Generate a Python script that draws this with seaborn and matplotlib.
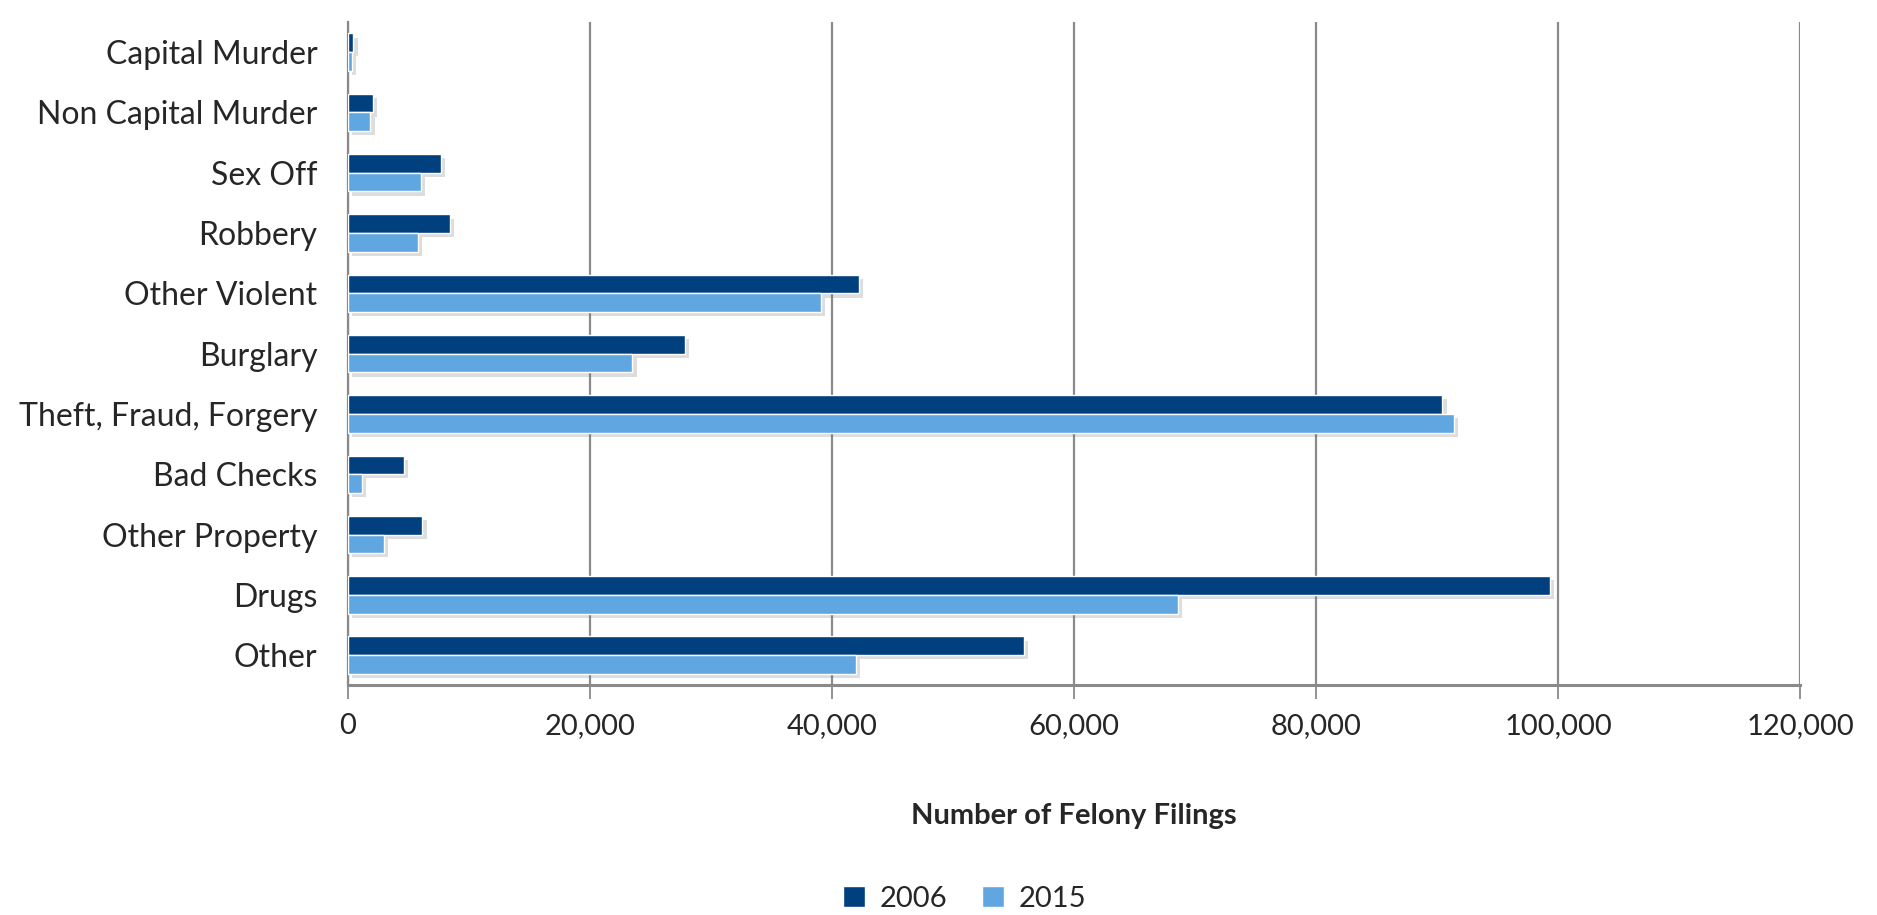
import matplotlib
matplotlib.use('Agg')

import numpy as np
import pandas as pd
import matplotlib.pyplot as plt
import matplotlib.patheffects as pe
from matplotlib.ticker import FuncFormatter, FixedLocator
import seaborn as sns

# Felony filings by offence type
categories = ["Capital Murder", "Non Capital Murder", "Sex Off", "Robbery",
              "Other Violent", "Burglary", "Theft, Fraud, Forgery", "Bad Checks",
              "Other Property", "Drugs", "Other"]
filings_2006 = [450, 2050, 7650, 8450, 42250, 27850, 90450, 4650, 6150, 99300, 55850]
filings_2015 = [350, 1850, 6050, 5750, 39050, 23500, 91400, 1150, 2950, 68600, 42000]
years = ["2006", "2015"]
x_ticks = [0, 20000, 40000, 60000, 80000, 100000, 120000]

df = pd.DataFrame({
    "category": categories * 2,
    "year": [years[0]] * len(categories) + [years[1]] * len(categories),
    "filings": filings_2006 + filings_2015,
})

sns.set_theme(style="white")
plt.rcParams['font.family'] = ['Lato', 'DejaVu Sans']

fig = plt.figure(figsize=(18.77, 9.15), dpi=100)
ax = fig.add_axes([0.1854, 0.251, 0.7736, 0.725])

palette = {"2006": "#00407E", "2015": "#60A6E1"}
sns.barplot(data=df, y="category", x="filings", hue="year", order=categories,
            hue_order=years, palette=palette, orient="h", width=0.62,
            saturation=1, ax=ax, zorder=3)

ax.set_xlim(0, 120000)
ax.set_ylim(len(categories) - 0.5, -0.5)
ax.xaxis.set_major_locator(FixedLocator(x_ticks))
ax.xaxis.set_major_formatter(FuncFormatter(lambda v, p: f"{int(v):,}"))
ax.grid(axis="x", color="#8A8A8A", linewidth=1.6, zorder=0)
ax.grid(axis="y", visible=False)

# y ticks at category boundaries, labels at centres
ax.yaxis.set_minor_locator(FixedLocator(np.arange(-0.5, len(categories), 1.0)))
ax.tick_params(axis="y", which="major", length=0, labelsize=23, pad=22)
ax.tick_params(axis="y", which="minor", length=10, width=1.5, color="#8A8A8A", direction="out")
ax.tick_params(axis="x", which="major", length=10, width=1.3, color="#8A8A8A",
               direction="out", bottom=True, labelsize=21, pad=10)

for side in ["top", "right"]:
    ax.spines[side].set_visible(False)
ax.spines["left"].set_color("#8A8A8A")
ax.spines["left"].set_linewidth(1.6)
ax.spines["bottom"].set_color("#8A8A8A")
ax.spines["bottom"].set_linewidth(2.2)

ax.set_ylabel("")
ax.set_xlabel("Number of Felony Filings", fontsize=21, fontweight="bold", labelpad=46)

handles, labels = ax.get_legend_handles_labels()
ax.legend_.remove()
fig.legend(handles, labels, loc="lower center", bbox_to_anchor=(0.514, -0.025), ncol=2,
           frameon=False, fontsize=21, handlelength=0.75, handleheight=0.75,
           handletextpad=0.5, columnspacing=1.2)

# soft Excel-like drop shadow on the bars only (after legend is built)
for patch in ax.patches:
    patch.set_path_effects([pe.SimplePatchShadow(offset=(3, -3), alpha=0.25, shadow_rgbFace="#7a7a7a"),
                            pe.Normal()])

fig.savefig("out.png", dpi=100)
